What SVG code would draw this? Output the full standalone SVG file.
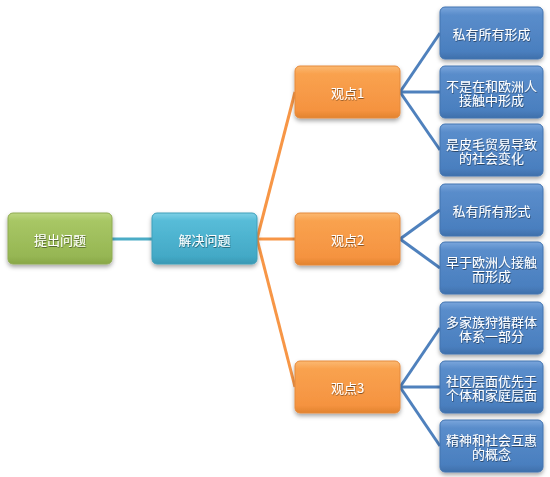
<svg xmlns="http://www.w3.org/2000/svg" width="550" height="477" viewBox="0 0 550 477">
<defs>
<style>
.t{font-family:"Noto Sans CJK SC","Noto Sans",sans-serif;font-size:13px;fill:#ffffff;text-anchor:middle;dominant-baseline:central}
.cb{stroke:#4f81bd;stroke-width:3;fill:none}
.co{stroke:#f79646;stroke-width:3;fill:none}
.cc{stroke:#4bacc6;stroke-width:3;fill:none}
</style>
<filter id="sh" x="-20%" y="-20%" width="140%" height="150%">
<feDropShadow dx="0" dy="2.5" stdDeviation="2" flood-color="#000" flood-opacity="0.35"/>
</filter>
<filter id="ts" x="-10%" y="-10%" width="120%" height="130%">
<feDropShadow dx="0.5" dy="1" stdDeviation="0.6" flood-color="#000" flood-opacity="0.45"/>
</filter>
<linearGradient id="gG" x1="0" y1="0" x2="0" y2="1">
<stop offset="0" stop-color="#bcd680"/><stop offset="0.15" stop-color="#a8c765"/><stop offset="0.85" stop-color="#96b653"/><stop offset="1" stop-color="#88a748"/>
</linearGradient>
<linearGradient id="gC" x1="0" y1="0" x2="0" y2="1">
<stop offset="0" stop-color="#7fd0e6"/><stop offset="0.15" stop-color="#57bcd8"/><stop offset="0.85" stop-color="#43a9c6"/><stop offset="1" stop-color="#3998b3"/>
</linearGradient>
<linearGradient id="gO" x1="0" y1="0" x2="0" y2="1">
<stop offset="0" stop-color="#fbb972"/><stop offset="0.15" stop-color="#f9a24f"/><stop offset="0.85" stop-color="#f59340"/><stop offset="1" stop-color="#e2832f"/>
</linearGradient>
<linearGradient id="gB" x1="0" y1="0" x2="0" y2="1">
<stop offset="0" stop-color="#7aa6dc"/><stop offset="0.15" stop-color="#5a8dcb"/><stop offset="0.85" stop-color="#4a7fbf"/><stop offset="1" stop-color="#3f70ab"/>
</linearGradient>
</defs>
<rect width="550" height="477" fill="#ffffff"/>
<g id="connectors">
<line class="cc" x1="112" y1="239" x2="152" y2="239"/>
<path class="co" d="M257 239 L295 92"/>
<path class="co" d="M257 239 L295 239"/>
<path class="co" d="M257 239 L295 387"/>
<path class="cb" d="M400 92 L440 33"/>
<path class="cb" d="M400 92 L440 92"/>
<path class="cb" d="M400 92 L440 150"/>
<path class="cb" d="M400 239 L440 210"/>
<path class="cb" d="M400 239 L440 268"/>
<path class="cb" d="M400 387 L440 328"/>
<path class="cb" d="M400 387 L440 387"/>
<path class="cb" d="M400 387 L440 446"/>
</g>
<g id="n0" filter="url(#sh)"><rect x="8" y="213" width="104" height="51" rx="5" fill="url(#gG)" stroke="#8fab52"/><text class="t" x="60" y="239" filter="url(#ts)">提出问题</text></g>
<g id="n1" filter="url(#sh)"><rect x="152" y="213" width="105" height="51" rx="5" fill="url(#gC)" stroke="#3f9fba"/><text class="t" x="204.5" y="239" filter="url(#ts)">解决问题</text></g>
<g id="n2" filter="url(#sh)"><rect x="295" y="66" width="105" height="52" rx="5" fill="url(#gO)" stroke="#e58a3c"/><text class="t" x="347.5" y="92" filter="url(#ts)">观点1</text></g>
<g id="n3" filter="url(#sh)"><rect x="295" y="213" width="105" height="52" rx="5" fill="url(#gO)" stroke="#e58a3c"/><text class="t" x="347.5" y="239" filter="url(#ts)">观点2</text></g>
<g id="n4" filter="url(#sh)"><rect x="295" y="361" width="105" height="52" rx="5" fill="url(#gO)" stroke="#e58a3c"/><text class="t" x="347.5" y="387" filter="url(#ts)">观点3</text></g>
<g id="n5" filter="url(#sh)"><rect x="440" y="7" width="103" height="52" rx="5" fill="url(#gB)" stroke="#4274b0"/><text class="t" x="491.5" y="33" filter="url(#ts)">私有所有形成</text></g>
<g id="n6" filter="url(#sh)"><rect x="440" y="66" width="103" height="52" rx="5" fill="url(#gB)" stroke="#4274b0"/><text class="t" x="491.5" y="85" filter="url(#ts)"><tspan x="491.5">不是在和欧洲人</tspan><tspan x="491.5" dy="14">接触中形成</tspan></text></g>
<g id="n7" filter="url(#sh)"><rect x="440" y="124" width="103" height="52" rx="5" fill="url(#gB)" stroke="#4274b0"/><text class="t" x="491.5" y="143" filter="url(#ts)"><tspan x="491.5">是皮毛贸易导致</tspan><tspan x="491.5" dy="14">的社会变化</tspan></text></g>
<g id="n8" filter="url(#sh)"><rect x="440" y="184" width="103" height="52" rx="5" fill="url(#gB)" stroke="#4274b0"/><text class="t" x="491.5" y="210" filter="url(#ts)">私有所有形式</text></g>
<g id="n9" filter="url(#sh)"><rect x="440" y="242" width="103" height="52" rx="5" fill="url(#gB)" stroke="#4274b0"/><text class="t" x="491.5" y="261" filter="url(#ts)"><tspan x="491.5">早于欧洲人接触</tspan><tspan x="491.5" dy="14">而形成</tspan></text></g>
<g id="n10" filter="url(#sh)"><rect x="440" y="302" width="103" height="52" rx="5" fill="url(#gB)" stroke="#4274b0"/><text class="t" x="491.5" y="321" filter="url(#ts)"><tspan x="491.5">多家族狩猎群体</tspan><tspan x="491.5" dy="14">体系一部分</tspan></text></g>
<g id="n11" filter="url(#sh)"><rect x="440" y="361" width="103" height="52" rx="5" fill="url(#gB)" stroke="#4274b0"/><text class="t" x="491.5" y="380" filter="url(#ts)"><tspan x="491.5">社区层面优先于</tspan><tspan x="491.5" dy="14">个体和家庭层面</tspan></text></g>
<g id="n12" filter="url(#sh)"><rect x="440" y="420" width="103" height="52" rx="5" fill="url(#gB)" stroke="#4274b0"/><text class="t" x="491.5" y="439" filter="url(#ts)"><tspan x="491.5">精神和社会互惠</tspan><tspan x="491.5" dy="14">的概念</tspan></text></g>
</svg>
